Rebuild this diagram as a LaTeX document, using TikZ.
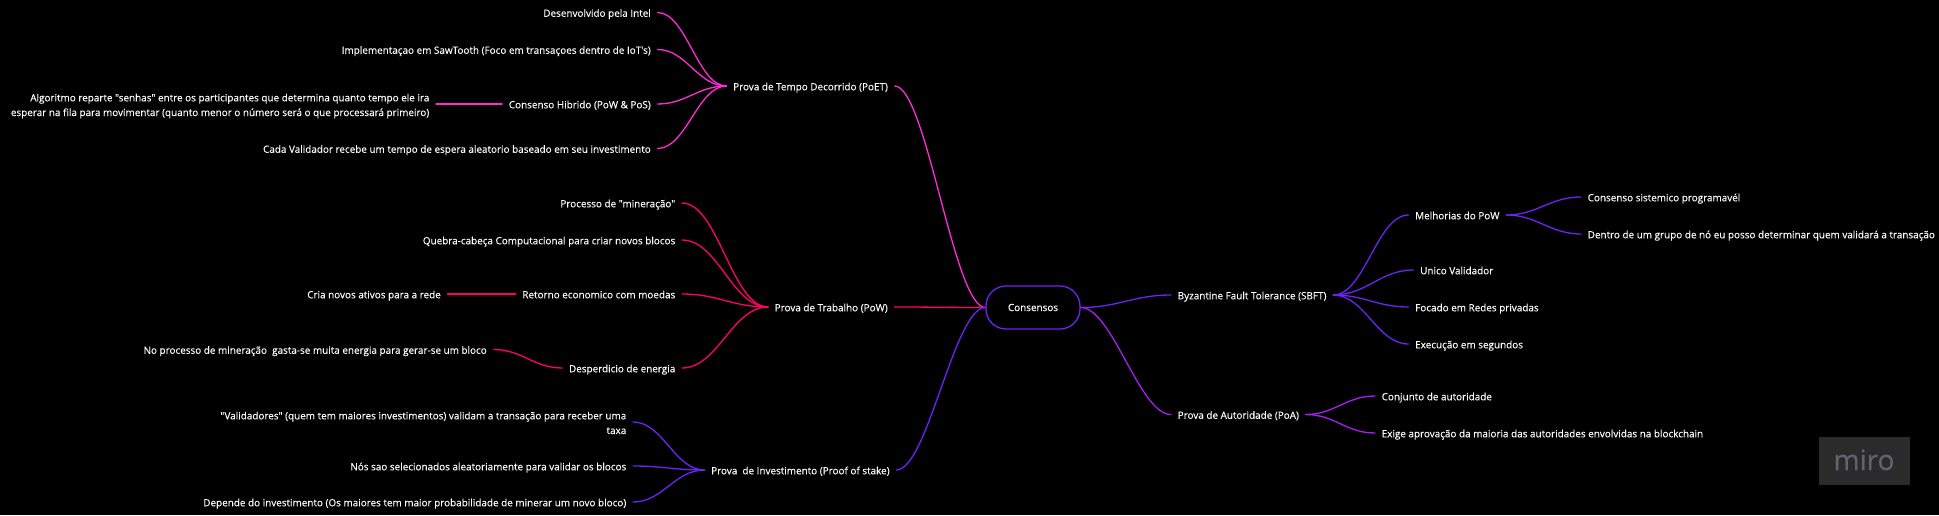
\documentclass[tikz,border=0pt]{standalone}
\usepackage{fontspec}
\newfontfamily\lblfont[FakeBold=0.12]{Open Sans}
\newfontfamily\mirofont[FakeBold=0.3]{Open Sans}
\usetikzlibrary{calc}
\definecolor{colpoet}{HTML}{FF2BD6}
\definecolor{colpow}{HTML}{FF0066}
\definecolor{colpos}{HTML}{6E22F5}
\definecolor{colpoa}{HTML}{A61FF0}
\definecolor{miroback}{HTML}{2B2B2B}
\definecolor{mirotext}{HTML}{64626C}
\tikzset{
  x=1pt,y=-1pt,
  lbl/.style={text=white,font=\lblfont\fontsize{9.92}{14.7}\selectfont,inner ysep=0pt,inner xsep=6.5pt,text height=10.5pt,text depth=2pt},
  twolines/.style={text height=26pt,text depth=2pt},
  toleft/.style={lbl,anchor=east,align=right},
  toright/.style={lbl,anchor=west,align=left},
  edgeline/.style={line width=1.3pt,line cap=round},
  rootbox/.style={draw=colpos,line width=1.3pt,rounded corners=20pt,minimum width=94pt,minimum height=43pt,text=white,font=\lblfont\fontsize{9.92}{14.7}\selectfont,inner sep=0pt},
  mirobox/.style={fill=miroback,text=mirotext,minimum width=91pt,minimum height=48.5pt,inner sep=0pt,text height=18pt,text depth=0pt,font=\mirofont\fontsize{28}{30}\selectfont}
}
\newcommand{\linkc}[4][.42]{\draw[edgeline,#2] (#3.east) .. controls ($(#3.east)!#1!(#3.east -| #4.west)$) and ($(#4.west)!#1!(#4.west -| #3.east)$) .. (#4.west);}
\begin{document}
\begin{tikzpicture}
\useasboundingbox[fill=black] (0,0) rectangle (1939,515);
% root
\node[rootbox] (root) at (1033,307.5) {Consensos};
% PoET
\node[toright] (poet) at (726.5,86) {Prova de Tempo Decorrido (PoET)};
\node[toleft] (a1) at (657.5,12.5) {Desenvolvido pela Intel};
\node[toleft] (a2) at (657.5,49.5) {Implementaçao em SawTooth (Foco em transaçoes dentro de IoT's)};
\node[toleft] (a3) at (657.5,104) {Consenso Hibrido (PoW \& PoS)};
\node[toleft] (a4) at (657.5,148.5) {Cada Validador recebe um tempo de espera aleatorio baseado em seu investimento};
\node[toleft,twolines] (a5) at (436,104) {Algoritmo reparte "senhas" entre os participantes que determina quanto tempo ele ira\\esperar na fila para movimentar (quanto menor o número será o que processará primeiro)};
% PoW
\node[toright] (pw) at (768,307) {Prova de Trabalho (PoW)};
\node[toleft] (b1) at (682,203) {Processo de "mineração"};
\node[toleft] (b2) at (682,240) {Quebra-cabeça Computacional para criar novos blocos};
\node[toleft] (b3) at (682,294) {Retorno economico com moedas};
\node[toleft] (b4) at (682,368) {Desperdicio de energia};
\node[toleft] (b5) at (447.5,294) {Cria novos ativos para a rede};
\node[toleft] (b6) at (493.5,349.5) {No processo de mineração\ \ gasta-se muita energia para gerar-se um bloco};
% PoS
\node[toright] (ps) at (704.5,470) {Prova\ \ de Investimento (Proof of stake)};
\node[toleft,twolines] (c1) at (633,422) {"Validadores" (quem tem maiores investimentos) validam a transação para receber uma\\taxa};
\node[toleft] (c2) at (633,466) {Nós sao selecionados aleatoriamente para validar os blocos};
\node[toleft] (c3) at (633,502) {Depende do investimento (Os maiores tem maior probabilidade de minerar um novo bloco)};
% SBFT
\node[toright] (sb) at (1171,295) {Byzantine Fault Tolerance (SBFT)};
\node[toright] (d1) at (1408.5,215) {Melhorias do PoW};
\node[toright] (d2) at (1413.5,270) {Unico Validador};
\node[toright] (d3) at (1408.5,307) {Focado em Redes privadas};
\node[toright] (d4) at (1408.5,344) {Execução em segundos};
\node[toright] (d5) at (1581,197) {Consenso sistemico programavél};
\node[toright] (d6) at (1581,234) {Dentro de um grupo de nó eu posso determinar quem validará a transação};
% PoA
\node[toright] (pa) at (1171,414.5) {Prova de Autoridade (PoA)};
\node[toright] (e1) at (1375,396) {Conjunto de autoridade};
\node[toright] (e2) at (1375,433) {Exige aprovação da maioria das autoridades envolvidas na blockchain};
% watermark
\node[mirobox] (miro) at (1864,461) {miro};
% connectors
\linkc{colpoet}{a1}{poet}\linkc{colpoet}{a2}{poet}\linkc{colpoet}{a3}{poet}\linkc{colpoet}{a4}{poet}\linkc{colpoet}{a5}{a3}
\linkc[.35]{colpoet}{poet}{root}
\linkc{colpow}{b1}{pw}\linkc{colpow}{b2}{pw}\linkc{colpow}{b3}{pw}\linkc{colpow}{b4}{pw}\linkc{colpow}{b5}{b3}\linkc{colpow}{b6}{b4}
\linkc{colpow}{pw}{root}
\linkc{colpos}{c1}{ps}\linkc{colpos}{c2}{ps}\linkc{colpos}{c3}{ps}
\linkc[.35]{colpos}{ps}{root}
\linkc{colpos}{root}{sb}
\linkc{colpos}{sb}{d1}\linkc{colpos}{sb}{d2}\linkc{colpos}{sb}{d3}\linkc{colpos}{sb}{d4}\linkc{colpos}{d1}{d5}\linkc{colpos}{d1}{d6}
\linkc[.35]{colpoa}{root}{pa}
\linkc{colpoa}{pa}{e1}\linkc{colpoa}{pa}{e2}
\end{tikzpicture}
\end{document}
